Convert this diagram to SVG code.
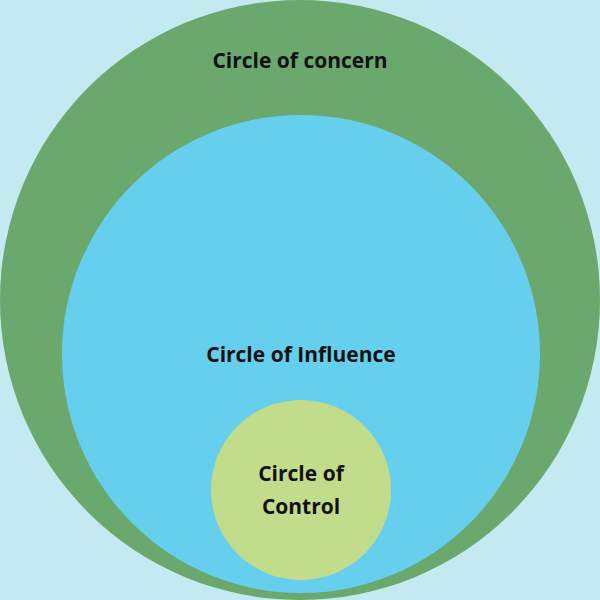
<svg xmlns="http://www.w3.org/2000/svg" width="600" height="600" viewBox="0 0 600 600">
<style>
text{font-family:"Open Sans","DejaVu Sans",sans-serif;font-weight:bold;font-size:21px;fill:#111;text-anchor:middle}
</style>
<rect width="600" height="600" fill="#c3eaf1"/>
<g id="concern"><circle cx="300" cy="300" r="300" fill="#6aa86e"/><text x="300" y="68">Circle of concern</text></g>
<g id="influence"><circle cx="301" cy="354" r="239" fill="#66cfee"/><text x="301" y="362">Circle of Influence</text></g>
<g id="control"><circle cx="301" cy="490" r="90" fill="#c1dd8c"/><text x="301" y="481">Circle of</text><text x="301" y="514">Control</text></g>
<g id="connectors"/>
</svg>
